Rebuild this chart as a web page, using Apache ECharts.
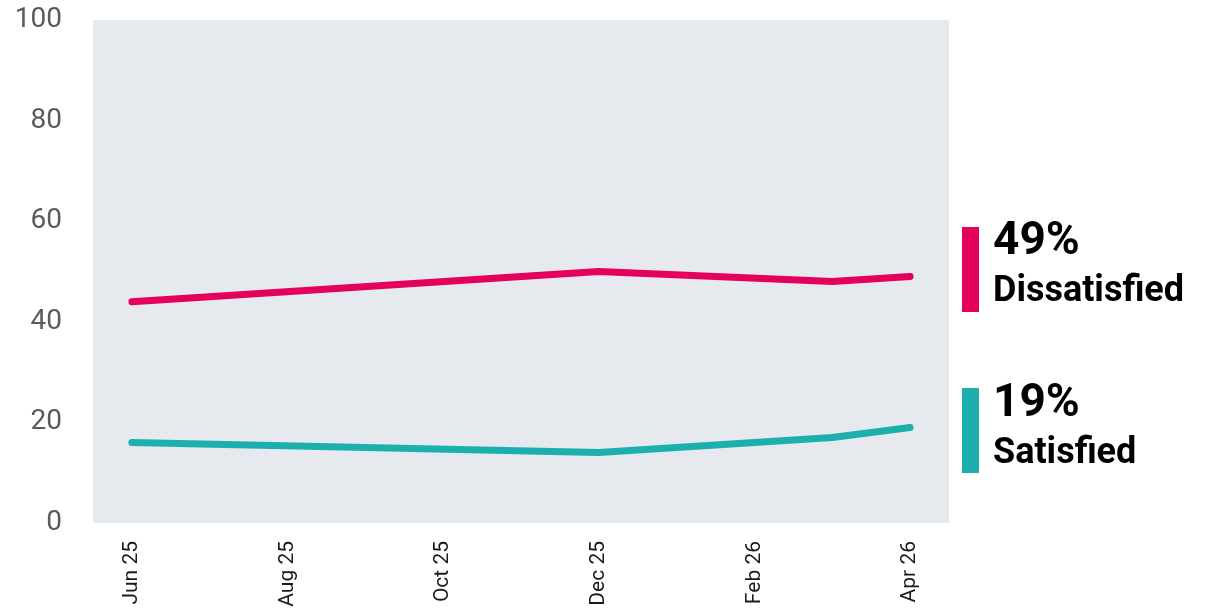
<!DOCTYPE html>
<html>
<head>
<meta charset="utf-8">
<script src="https://cdn.jsdelivr.net/npm/echarts@6/dist/echarts.min.js"></script>
<style>
html,body{margin:0;padding:0;background:#fff;}
#chart{width:1221px;height:611px;}
</style>
</head>
<body>
<div id="chart"></div>
<script>
const months = ['Jun 25','Jul 25','Aug 25','Sep 25','Oct 25','Nov 25','Dec 25','Jan 26','Feb 26','Mar 26','Apr 26'];
const dissatisfied = [44, null, null, null, null, null, 50, null, null, 48, 49];
const satisfied = [16, null, null, null, null, null, 14, null, null, 17, 19];
const yTicks = [0, 20, 40, 60, 80, 100];
const seriesNames = ['Dissatisfied', 'Satisfied'];
const colors = ['#E4005B', '#1BB0AE'];

function lastVal(arr){ for (let i = arr.length - 1; i >= 0; i--) if (arr[i] != null) return arr[i]; return null; }

const chart = echarts.init(document.getElementById('chart'), null, {renderer: 'canvas'});
const font = 'Roboto, "Noto Sans", sans-serif';

const option = {
  animation: false,
  backgroundColor: '#ffffff',
  grid: {left: 93, right: 272, top: 20, bottom: 88, show: true, backgroundColor: '#E6E9EE', borderWidth: 0},
  xAxis: {
    type: 'category',
    data: months,
    boundaryGap: true,
    axisLine: {show: false},
    axisTick: {show: false},
    axisLabel: {interval: 1, rotate: 90, margin: 18, fontSize: 21, color: '#1a1a1a', fontFamily: font}
  },
  yAxis: {
    type: 'value',
    min: yTicks[0],
    max: yTicks[yTicks.length - 1],
    interval: 20,
    axisLine: {show: false},
    axisTick: {show: false},
    splitLine: {show: false},
    axisLabel: {margin: 31, fontSize: 28, color: '#5a5a5a', fontFamily: font, padding: [8, 0, 0, 0]}
  },
  series: [
    {name: seriesNames[0], type: 'line', data: dissatisfied, connectNulls: true, showSymbol: false, symbol: 'none',
     lineStyle: {color: colors[0], width: 7, cap: 'round', join: 'round'}},
    {name: seriesNames[1], type: 'line', data: satisfied, connectNulls: true, showSymbol: false, symbol: 'none',
     lineStyle: {color: colors[1], width: 7, cap: 'round', join: 'round'}}
  ],
  graphic: [
    {type: 'rect', shape: {x: 962, y: 227, width: 17, height: 85}, style: {fill: colors[0]}},
    {type: 'text', x: 993, y: 242, style: {text: lastVal(dissatisfied) + '%', font: 'bold 46px ' + font, fill: '#000', textVerticalAlign: 'middle'}},
    {type: 'text', x: 993, y: 292, style: {text: seriesNames[0], font: 'bold 36px ' + font, fill: '#000', textVerticalAlign: 'middle'}},
    {type: 'rect', shape: {x: 962, y: 388, width: 17, height: 85}, style: {fill: colors[1]}},
    {type: 'text', x: 993, y: 404, style: {text: lastVal(satisfied) + '%', font: 'bold 46px ' + font, fill: '#000', textVerticalAlign: 'middle'}},
    {type: 'text', x: 993, y: 454, style: {text: seriesNames[1], font: 'bold 36px ' + font, fill: '#000', textVerticalAlign: 'middle'}}
  ]
};
chart.setOption(option);
</script>
</body>
</html>
